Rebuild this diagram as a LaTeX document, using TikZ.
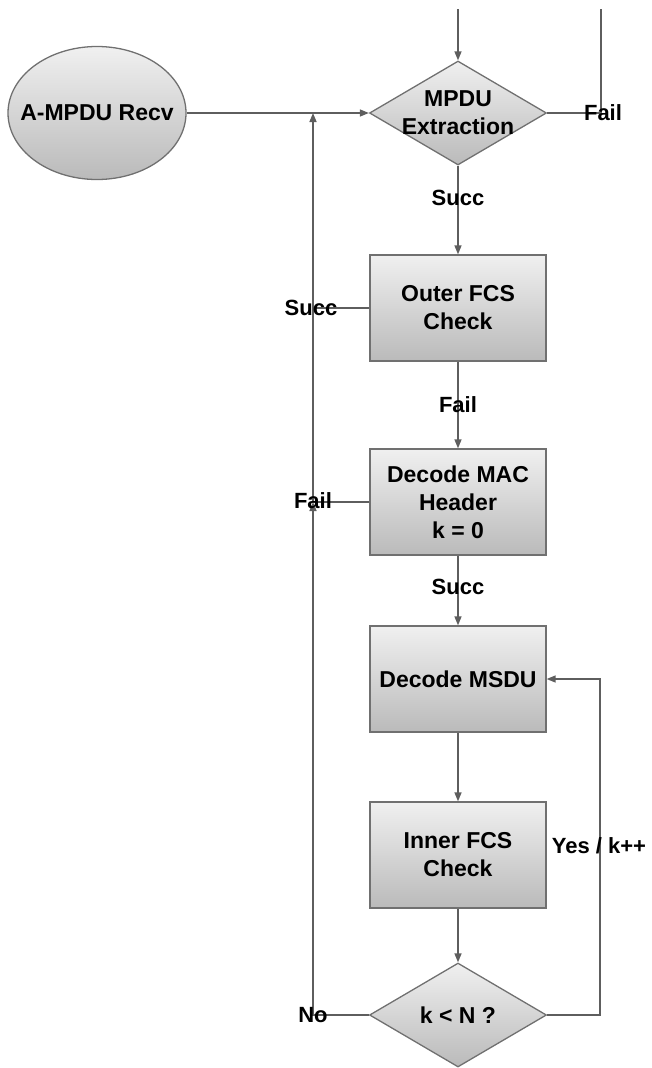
\documentclass[tikz,border=0pt]{standalone}
\usepackage{fontspec}
\setmainfont{Liberation Sans}
\usetikzlibrary{shapes.geometric,arrows.meta}
\definecolor{linec}{HTML}{5E5E5E}
\definecolor{bordc}{HTML}{707070}
\definecolor{topc}{HTML}{F0F0F0}
\definecolor{botc}{HTML}{BABABA}
\begin{document}
\begin{tikzpicture}[x=1pt,y=-1pt,
  base/.style={draw=bordc,line width=1.3pt,top color=topc,bottom color=botc,inner sep=0pt},
  box/.style={base,rectangle,minimum width=176pt,minimum height=106pt,align=center,
    font=\fontsize{23}{28}\selectfont\bfseries},
  dia/.style={base,diamond,minimum width=177pt,minimum height=104pt},
  oval/.style={base,ellipse,minimum width=178pt,minimum height=133pt},
  txt/.style={font=\fontsize{23}{28}\selectfont\bfseries,align=center,inner sep=0pt},
  lab/.style={font=\fontsize{22}{26}\selectfont\bfseries,inner sep=0pt},
  conn/.style={draw=linec,line width=1.5pt},
  arr/.style={conn,-{Triangle[length=9pt,width=7pt]}}]
\useasboundingbox (0,0) rectangle (651,1068);
% nodes
\node[oval] (recv) at (97,113) {};
\node[txt] (recvt) at (recv.center) {A-MPDU Recv};
\node[dia] (ext) at (458,113) {};
\node[txt] (extt) at (ext.center) {MPDU\\Extraction};
\node[box] (outer) at (458,308) {Outer FCS\\Check};
\node[box] (mac) at (458,502) {Decode MAC\\Header\\k = 0};
\node[box] (msdu) at (458,679) {Decode MSDU};
\node[box] (inner) at (458,855) {Inner FCS\\Check};
\node[dia] (knd) at (458,1015) {};
\node[txt] (kndt) at (knd.center) {k < N ?};
% coordinates
\coordinate (ttop) at (458,9);
\coordinate (tright) at (601,9);
\coordinate (fr) at (601,113);
\coordinate (jmain) at (313,113);
\coordinate (jsucc) at (313,308);
\coordinate (jfail) at (313,502);
\coordinate (jno) at (313,1015);
\coordinate (yr) at (600,1015);
% connectors
\draw[arr] (recv) -- (ext);
\draw[arr] (ttop) -- (ext.north);
\draw[conn] (ext.east) -- (fr) -- (tright);
\draw[arr] (ext) -- (outer);
\draw[arr] (outer) -- (mac);
\draw[arr] (mac) -- (msdu);
\draw[arr] (msdu) -- (inner);
\draw[arr] (inner) -- (knd);
\draw[arr] (knd.east) -- (yr) |- (msdu.east);
\draw[arr] (knd.west) -- (jno) -- (jfail);
\draw[conn] (mac.west) -- (jfail) -- (jsucc);
\draw[conn] (outer.west) -- (jsucc);
\draw[arr] (jsucc) -- (jmain);
% labels
\node[lab] (l1) at (458,198) {Succ};
\node[lab] (l2) at (458,405) {Fail};
\node[lab] (l3) at (458,587) {Succ};
\node[lab] (l4) at (603,113) {Fail};
\node[lab] (l5) at (311,308) {Succ};
\node[lab] (l6) at (313,501) {Fail};
\node[lab] (l7) at (313,1015) {No};
\node[lab] (l8) at (599,846) {Yes / k++};
\end{tikzpicture}
\end{document}
